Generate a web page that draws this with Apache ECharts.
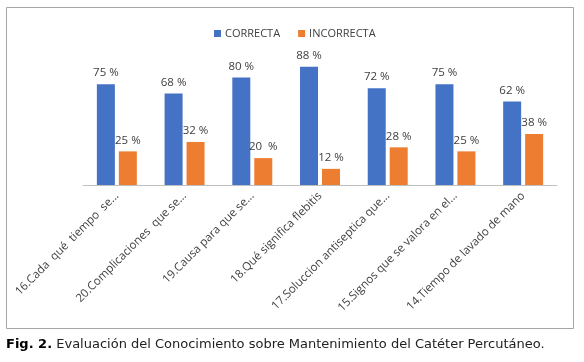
<!DOCTYPE html>
<html>
<head>
<meta charset="utf-8">
<script src="https://cdn.jsdelivr.net/npm/echarts@6/dist/echarts.min.js"></script>
<style>
html,body{margin:0;padding:0;background:#fff;}
#c{width:584px;height:362px;}
</style>
</head>
<body>
<div id="c"></div>
<script>
var categories = [
  '16.Cada  qué  tiempo  se...',
  '20.Complicaciones  que se...',
  '19.Causa para que se...',
  '18.Qué significa flebitis',
  '17.Soluccion antiseptica que...',
  '15.Signos que se valora en el...',
  '14.Tiempo de lavado de mano'
];
var correcta = [75, 68, 80, 88, 72, 75, 62];
var incorrecta = [25, 32, 20, 12, 28, 25, 38];
var seriesNames = ['CORRECTA', 'INCORRECTA'];
var captionBold = 'Fig. 2.';
var captionText = ' Evaluación del Conocimiento sobre Mantenimiento del Catéter Percutáneo.';

var chart = echarts.init(document.getElementById('c'), null, {renderer: 'canvas'});
var labelFont = 'Open Sans';
function lbl(p) {
  return p.value + (p.value === 20 && p.seriesIndex === 1 ? '  %' : ' %');
}
chart.setOption({
  animation: false,
  backgroundColor: '#fff',
  graphic: [{
    type: 'rect',
    shape: {x: 6.5, y: 7.5, width: 567, height: 321},
    style: {fill: 'none', stroke: '#a6a6a6', lineWidth: 1},
    silent: true
  }, {
    type: 'text',
    left: 6,
    top: 338,
    silent: true,
    style: {
      text: '{b|' + captionBold + '}{n|' + captionText + '}',
      rich: {
        b: {font: 'bold 13px "DejaVu Sans"', fill: '#000'},
        n: {font: 'normal 13px "DejaVu Sans"', fill: '#222'}
      }
    }
  }],
  legend: {
    data: seriesNames,
    top: 23,
    left: 209,
    itemWidth: 7,
    itemHeight: 7,
    itemGap: 18,
    icon: 'rect',
    textStyle: {fontFamily: labelFont, fontSize: 11, color: '#404040', padding: [0, 0, 0, -1]}
  },
  grid: {left: 83, right: 27, top: 50.5, bottom: 177, containLabel: false},
  xAxis: {
    type: 'category',
    data: categories,
    axisLine: {lineStyle: {color: '#bfbfbf', width: 1}},
    axisTick: {show: false},
    axisLabel: {
      rotate: 45,
      interval: 0,
      margin: 9,
      fontFamily: labelFont,
      fontSize: 11.5,
      color: '#404040'
    }
  },
  yAxis: {
    type: 'value',
    min: 0,
    max: 100,
    show: false,
    splitLine: {show: false}
  },
  series: [
    {
      name: seriesNames[0],
      type: 'bar',
      data: correcta,
      barWidth: 18,
      barGap: '22%',
      itemStyle: {color: '#4472c4'},
      label: {show: true, position: 'top', distance: 5, formatter: lbl,
        fontFamily: labelFont, fontSize: 11.5, color: '#404040'}
    },
    {
      name: seriesNames[1],
      type: 'bar',
      data: incorrecta,
      barWidth: 18,
      itemStyle: {color: '#ed7d31'},
      label: {show: true, position: 'top', distance: 5, formatter: lbl,
        fontFamily: labelFont, fontSize: 11.5, color: '#404040'}
    }
  ]
});
</script>
</body>
</html>
